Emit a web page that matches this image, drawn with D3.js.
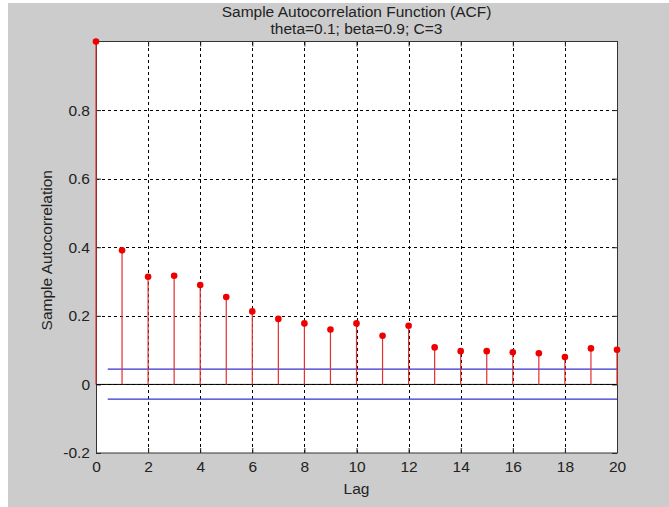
<!DOCTYPE html>
<html>
<head>
<meta charset="utf-8">
<script src="https://cdn.jsdelivr.net/npm/d3@7"></script>
<style>
  html, body { margin: 0; padding: 0; background: #ffffff; }
  svg { display: block; }
  text { font-family: "Liberation Sans", Arial, sans-serif; fill: #222; }
</style>
</head>
<body>
<svg id="chart" width="669" height="507"></svg>
<script>
// ---- data ----
const lags = [0, 1, 2, 3, 4, 5, 6, 7, 8, 9, 10, 11, 12, 13, 14, 15, 16, 17, 18, 19, 20];
const acf = [1.0, 0.391, 0.314, 0.317, 0.290, 0.255, 0.213, 0.191, 0.178, 0.160, 0.178,
             0.142, 0.171, 0.108, 0.097, 0.097, 0.094, 0.091, 0.080, 0.105, 0.101];
const boundValues = [0.0445, -0.0430];
const boundLagRange = [0.45, 20];
const xTicks = [0, 2, 4, 6, 8, 10, 12, 14, 16, 18, 20];
const yTicks = [-0.2, 0, 0.2, 0.4, 0.6, 0.8];
const titleLines = ["Sample Autocorrelation Function (ACF)", "theta=0.1; beta=0.9; C=3"];
const xLabel = "Lag";
const yLabel = "Sample Autocorrelation";

// ---- layout ----
const W = 669, H = 507;
const L = 96, R = 617, T = 41.5, B = 453;
const svg = d3.select("#chart");

svg.append("rect").attr("x", 8).attr("y", 3).attr("width", W - 8).attr("height", H - 3).attr("fill", "#cccccc");
svg.append("rect").attr("x", L).attr("y", T).attr("width", R - L).attr("height", B - T).attr("fill", "#ffffff");

const x = d3.scaleLinear().domain([0, 20]).range([L, R]);
const y = d3.scaleLinear().domain([-0.2, 1]).range([B, T]);

// grid
const grid = svg.append("g").attr("stroke", "#000").attr("stroke-width", 1).attr("stroke-dasharray", "3,3").attr("shape-rendering", "crispEdges");
grid.selectAll("line.gx").data(xTicks.filter(d => d > 0 && d < 20)).enter().append("line")
  .attr("x1", d => Math.round(x(d)) + 0.5).attr("x2", d => Math.round(x(d)) + 0.5)
  .attr("y1", T).attr("y2", B);
grid.selectAll("line.gy").data(yTicks.filter(d => d > -0.2)).enter().append("line")
  .attr("x1", L).attr("x2", R)
  .attr("y1", d => Math.round(y(d)) + 0.5).attr("y2", d => Math.round(y(d)) + 0.5);

// axes with d3
const axB = d3.axisBottom(x).tickValues(xTicks).tickSize(-5).tickPadding(8).tickFormat(d3.format("d"));
const axT = d3.axisTop(x).tickValues(xTicks).tickSize(-5).tickFormat("");
const axL = d3.axisLeft(y).tickValues(yTicks).tickSize(-5).tickPadding(6).tickFormat(d => d === 0 ? "0" : d3.format(".1f")(d).replace("−", "-"));
const axR = d3.axisRight(y).tickValues(yTicks).tickSize(-5).tickFormat("");

function styleAxis(g) {
  g.select(".domain").attr("stroke", "#333");
  g.selectAll(".tick line").attr("stroke", "#222");
  g.selectAll("text").attr("font-size", "15.5px").attr("fill", "#222").attr("font-family", "'Liberation Sans', Arial, sans-serif");
}
svg.append("g").attr("transform", `translate(0,${B})`).call(axB).call(styleAxis);
svg.append("g").attr("transform", `translate(0,${T})`).call(axT).call(styleAxis);
svg.append("g").attr("transform", `translate(${L},0)`).call(axL).call(styleAxis);
svg.append("g").attr("transform", `translate(${R},0)`).call(axR).call(styleAxis);
svg.selectAll(".domain").attr("d", null);
svg.append("rect").attr("x", L + 0.5).attr("y", T).attr("width", R - L).attr("height", B - T)
  .attr("fill", "none").attr("stroke", "#333").attr("stroke-width", 1);

// zero line
svg.append("line").attr("x1", L).attr("x2", R).attr("y1", y(0)).attr("y2", y(0))
  .attr("stroke", "#000").attr("stroke-width", 1);

// confidence bounds
svg.append("g").selectAll("line").data(boundValues).enter().append("line")
  .attr("x1", x(boundLagRange[0])).attr("x2", x(boundLagRange[1]))
  .attr("y1", d => y(d)).attr("y2", d => y(d))
  .attr("stroke", "#3333cc").attr("stroke-width", 1.2);

// stems
const pts = lags.map((l, i) => ({ lag: l, v: acf[i] }));
svg.append("g").selectAll("line").data(pts).enter().append("line")
  .attr("x1", d => x(d.lag)).attr("x2", d => x(d.lag))
  .attr("y1", y(0)).attr("y2", d => y(d.v))
  .attr("stroke", "#e03030").attr("stroke-width", 1.2);
svg.append("g").selectAll("circle").data(pts).enter().append("circle")
  .attr("cx", d => x(d.lag)).attr("cy", d => y(d.v)).attr("r", 3.3)
  .attr("fill", "#ee0000");

// titles
svg.append("text").attr("x", (L + R) / 2).attr("y", 17).attr("text-anchor", "middle")
  .attr("font-size", "15.5px").text(titleLines[0]);
svg.append("text").attr("x", (L + R) / 2).attr("y", 34).attr("text-anchor", "middle")
  .attr("font-size", "15.5px").text(titleLines[1]);
svg.append("text").attr("x", (L + R) / 2).attr("y", 494).attr("text-anchor", "middle")
  .attr("font-size", "15.5px").text(xLabel);
svg.append("text").attr("transform", `translate(52,${(T + B) / 2 + 3}) rotate(-90)`).attr("text-anchor", "middle")
  .attr("font-size", "15.5px").text(yLabel);
</script>
</body>
</html>
